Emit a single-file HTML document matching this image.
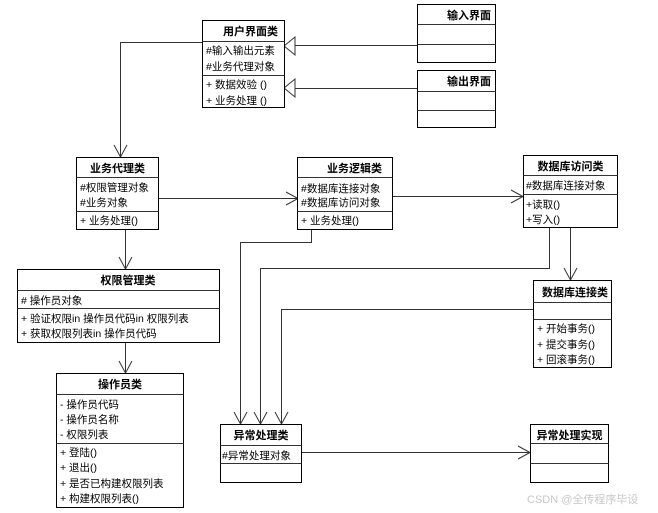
<!DOCTYPE html>
<html><head><meta charset="utf-8"><style>
html,body{margin:0;padding:0;background:#fff;}
svg{display:block;}
text{font-family:"Liberation Sans","Noto Sans CJK SC",sans-serif;font-size:10.5px;fill:#000;}
.b{font-weight:bold;font-size:11px;}
rect{fill:#fff;stroke:#000;stroke-width:1;}
.l{stroke:#333;stroke-width:1;fill:none;}
.a{stroke:#333;stroke-width:1;fill:none;}
</style></head><body>
<svg width="658" height="513" viewBox="0 0 658 513" xmlns="http://www.w3.org/2000/svg">
<!-- connectors -->
<path class="l" d="M417 45.5H295 M417 88.5H295"/>
<path d="M284 46 L295 37 L295 55 Z M284 88 L295 79 L295 97 Z" fill="#fff" stroke="#333"/>
<path class="l" d="M202 42.5H120.5V157"/>
<path class="a" d="M114 145 L120.5 157 L127 145"/>
<path class="l" d="M158 198.5H298"/>
<path class="a" d="M286 192 L298 198.5 L286 205"/>
<path class="l" d="M392 196.5H523"/>
<path class="a" d="M511 190 L523 196.5 L511 203"/>
<path class="l" d="M125.5 229V269"/>
<path class="a" d="M119 257 L125.5 269 L132 257"/>
<path class="l" d="M125.5 342V373"/>
<path class="a" d="M119 361 L125.5 373 L132 361"/>
<path class="l" d="M570.5 227V280"/>
<path class="a" d="M564 268 L570.5 280 L577 268"/>
<path class="l" d="M311.5 229V242.5H240.5V424"/>
<path class="l" d="M549.5 227V268.5H260.5V424"/>
<path class="l" d="M533 309.5H281.5V424"/>
<path class="a" d="M234 412 L240.5 424 L247 412 M254 412 L260.5 424 L267 412 M275 412 L281.5 424 L288 412"/>
<path class="l" d="M301 452.5H530"/>
<path class="a" d="M518 446 L530 452.5 L518 459"/>

<!-- 用户界面类 -->
<rect x="202.5" y="20.5" width="82" height="87"/>
<path class="l" d="M202.5 41.5H284.5 M202.5 75.5H284.5" stroke="#000"/>
<text class="b" x="278" y="35" text-anchor="end">用户界面类</text>
<text x="206" y="54">#输入输出元素</text>
<text x="206" y="70">#业务代理对象</text>
<text x="206" y="88">+ 数据效验 ()</text>
<text x="206" y="104">+ 业务处理 ()</text>

<!-- 输入界面 -->
<rect x="417.5" y="4.5" width="78" height="58"/>
<path class="l" d="M417.5 24.5H495.5 M417.5 44.5H495.5" stroke="#000"/>
<text class="b" x="491" y="19" text-anchor="end">输入界面</text>
<!-- 输出界面 -->
<rect x="417.5" y="70.5" width="78" height="57"/>
<path class="l" d="M417.5 91.5H495.5 M417.5 110.5H495.5" stroke="#000"/>
<text class="b" x="491" y="85" text-anchor="end">输出界面</text>

<!-- 业务代理类 -->
<rect x="76.5" y="157.5" width="82" height="72"/>
<path class="l" d="M76.5 177.5H158.5 M76.5 211.5H158.5" stroke="#000"/>
<text class="b" x="117.5" y="172" text-anchor="middle">业务代理类</text>
<text x="80" y="191">#权限管理对象</text>
<text x="80" y="206">#业务对象</text>
<text x="80" y="224">+ 业务处理()</text>

<!-- 业务逻辑类 -->
<rect x="297.5" y="157.5" width="95" height="72"/>
<path class="l" d="M297.5 177.5H392.5 M297.5 211.5H392.5" stroke="#000"/>
<text class="b" x="382" y="172" text-anchor="end">业务逻辑类</text>
<text x="301" y="192">#数据库连接对象</text>
<text x="301" y="206">#数据库访问对象</text>
<text x="301" y="224">+ 业务处理()</text>

<!-- 数据库访问类 -->
<rect x="523.5" y="155.5" width="94" height="72"/>
<path class="l" d="M523.5 175.5H617.5 M523.5 194.5H617.5" stroke="#000"/>
<text class="b" x="570.5" y="170" text-anchor="middle">数据库访问类</text>
<text x="526" y="189">#数据库连接对象</text>
<text x="526" y="208">+读取()</text>
<text x="526" y="223">+写入()</text>

<!-- 数据库连接类 -->
<rect x="533.5" y="280.5" width="78" height="87"/>
<path class="l" d="M533.5 302.5H611.5 M533.5 319.5H611.5" stroke="#000"/>
<text class="b" x="608" y="296" text-anchor="end">数据库连接类</text>
<text x="537" y="332">+ 开始事务()</text>
<text x="537" y="348">+ 提交事务()</text>
<text x="537" y="363">+ 回滚事务()</text>

<!-- 权限管理类 -->
<rect x="17.5" y="269.5" width="202" height="73"/>
<path class="l" d="M17.5 290.5H219.5 M17.5 308.5H219.5" stroke="#000"/>
<text class="b" x="128" y="284" text-anchor="middle">权限管理类</text>
<text x="21" y="304"># 操作员对象</text>
<text x="21" y="322">+ 验证权限in 操作员代码in 权限列表</text>
<text x="21" y="337">+ 获取权限列表in 操作员代码</text>

<!-- 操作员类 -->
<rect x="56.5" y="373.5" width="127" height="134"/>
<path class="l" d="M56.5 394.5H183.5 M56.5 443.5H183.5" stroke="#000"/>
<text class="b" x="120" y="388" text-anchor="middle">操作员类</text>
<text x="60" y="408">- 操作员代码</text>
<text x="60" y="423">- 操作员名称</text>
<text x="60" y="438">- 权限列表</text>
<text x="60" y="456">+ 登陆()</text>
<text x="60" y="471">+ 退出()</text>
<text x="60" y="487">+  是否已构建权限列表</text>
<text x="60" y="502">+ 构建权限列表()</text>

<!-- 异常处理类 -->
<rect x="220.5" y="424.5" width="81" height="58"/>
<path class="l" d="M220.5 445.5H301.5 M220.5 463.5H301.5" stroke="#000"/>
<text class="b" x="261" y="439" text-anchor="middle">异常处理类</text>
<text x="222" y="459">#异常处理对象</text>

<!-- 异常处理实现 -->
<rect x="530.5" y="424.5" width="78" height="58"/>
<path class="l" d="M530.5 443.5H608.5 M530.5 463.5H608.5" stroke="#000"/>
<text class="b" x="569.5" y="439" text-anchor="middle">异常处理实现</text>

<text x="527" y="503" style="fill:#c8c8c8;font-size:11px">CSDN @全传程序毕设</text>
</svg>
</body></html>
